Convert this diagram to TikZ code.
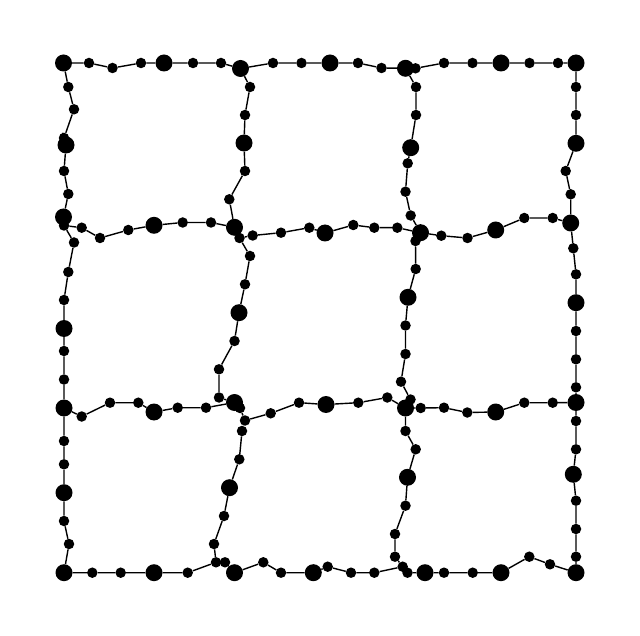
\documentclass[tikz,border=0pt]{standalone}
\begin{document}
\begin{tikzpicture}[x=1pt,y=-1pt,
  sm/.style={circle,fill=black,inner sep=0pt,minimum size=10.5pt},
  bg/.style={circle,fill=black,inner sep=0pt,minimum size=17pt},
  lk/.style={line width=1.4pt,black}]
\useasboundingbox (0,0) rectangle (640,636);
% big nodes
\foreach \n/\x/\y in {a1/63.5/63, a5/164/63, J12/240.5/68.5, a11/330/63, J13/405.5/68.3, a18/501/63, J14/576/63,
  l4/66/145, J21/63.5/217, l10/64/328.5, J31/64/408, l15/64/492.7, J41/64/572.7,
  m3/244/143, J22/234.5/227.3, m8/239/312.7, J32/234.5/402.5, m14/229.5/487.7, J42/234.5/572.7,
  k3/410.7/147.7, J23/420.5/232.7, k8/408/297.3, J33/405.5/408, k15/407.5/477.3, J43/425/572.7,
  q3/576/143.3, J24/570.7/223, q8/576/302.7, J34/576/402.5, q14/573.3/474.3, J44/576/572.7,
  b4/154/225.3, b10/325/233, b16/495.7/230,
  c4/154/412, c9/326/404.5, c14/495.7/412,
  d3/154/572.7, d7/313.3/572.7, d13/501/572.7}
  \node[bg] (\n) at (\x,\y) {};
% small nodes
\foreach \n/\x/\y in {a2/89/63, a3/112.5/68, a4/141/63, a6/193/63, a7/221/63, a9/273/63, a10/301.5/63,
  a12/358/63, a13/381.5/68, a15/415.5/68.3, a16/444/63, a17/472.5/63, a19/529.5/63, a20/558/63,
  l1/68.3/87, l2/74/109.3, l3/64/138, l5/64/171, l6/68.3/194, J21s/64/225.5, l7/74/242.5, l8/68.3/272,
  l9/64/300, l11/64/351, l12/64/379.5, l13/64/441, l14/64/464.3, l16/64/521, l17/69/544,
  m1/250/87, m2/245/115, m4/245/171, m5/229.3/199.3, J22s/239.5/238, m6/250/256, m7/245/284.3,
  m9/234.5/341, m10/219/369.3, m11/219/397.5, J32s/240/408, J32t/245/420.5, m12/242/431,
  m13/239.3/459.3, m15/224/516, m16/214/544, J42a/216/562.3, J42b/225/562.3,
  k1/416/87, k2/416/115, k4/407.7/163.3, k5/405.5/191.7, k6/410.7/215.5, J23s/415.5/241,
  k7/415.7/269, k9/405.5/325.5, k10/405.5/354, k11/401/381.7, k12/410.5/399.5, J33s/420.7/408,
  k13/405.5/431, k14/415.7/449.3, k16/405.5/505.7, k17/395/534, k18/395/556.7, k19/402.7/566.7, k20/407.5/572.7,
  q1/576/87, q2/576/115, q4/565.7/171, q5/570.7/194.3, q6/573.3/248.3, q7/576/274.3, q9/576/331,
  q10/576/359.3, q11/576/387.3, q12/576/421, q13/576/449.3, q15/576/500.7, q16/576/529, q17/576/556.7,
  b1/81.7/227.7, b2/100/238, b3/128.3/230, b5/182.7/222.5, b6/211/222.5, b7/252.7/235.5, b8/281/232.7,
  b9/309.3/227.7, b11/353.3/225, b12/374.3/227.7, b13/397.3/227.7, b14/441.3/235.7, b15/467.5/238,
  b17/524.3/218, b18/552.7/218,
  c1/81.7/416.5, c2/110/402.7, c3/138.3/402.7, c5/177.7/407.7, c6/206/407.7, c7/270.7/413.3, c8/299/402.7,
  c10/358.3/402.7, c11/387.3/397.5, c12/444/407.7, c13/467.3/412.5, c15/524.3/402.7, c16/552.7/402.7,
  d1/92.3/572.7, d2/120.7/572.7, d4/187.7/572.7, d5/263.3/562.3, d6/281/572.7, d8/327.7/566.7,
  d9/351/572.7, d10/374.3/572.7, d11/444/572.7, d12/472.7/572.7, d14/529.3/556.7, d15/550/564.3}
  \node[sm] (\n) at (\x,\y) {};
% rows
\draw[lk] (a1)--(a2)--(a3)--(a4)--(a5)--(a6)--(a7)--(J12)--(a9)--(a10)--(a11)--(a12)--(a13)--(J13)--(a15)--(a16)--(a17)--(a18)--(a19)--(a20)--(J14);
\draw[lk] (J21s)--(b1)--(b2)--(b3)--(b4)--(b5)--(b6)--(J22);
\draw[lk] (J22s)--(b7)--(b8)--(b9)--(b10)--(b11)--(b12)--(b13)--(J23)--(b14)--(b15)--(b16)--(b17)--(b18)--(J24);
\draw[lk] (J31)--(c1)--(c2)--(c3)--(c4)--(c5)--(c6)--(J32);
\draw[lk] (J32t)--(c7)--(c8)--(c9)--(c10)--(c11)--(J33)--(J33s)--(c12)--(c13)--(c14)--(c15)--(c16)--(J34);
\draw[lk] (J41)--(d1)--(d2)--(d3)--(d4)--(J42a)--(J42b)--(J42)--(d5)--(d6)--(d7)--(d8)--(d9)--(d10)--(k19);
\draw[lk] (J43)--(d11)--(d12)--(d13)--(d14)--(d15)--(J44);
% columns
\draw[lk] (a1)--(l1)--(l2)--(l3)--(l4)--(l5)--(l6)--(J21)--(J21s)--(l7)--(l8)--(l9)--(l10)--(l11)--(l12)--(J31)--(l13)--(l14)--(l15)--(l16)--(l17)--(J41);
\draw[lk] (J12)--(m1)--(m2)--(m3)--(m4)--(m5)--(J22)--(J22s)--(m6)--(m7)--(m8)--(m9)--(m10)--(m11)--(J32)--(J32s)--(J32t)--(m12)--(m13)--(m14)--(m15)--(m16)--(J42a);
\draw[lk] (J13)--(k1)--(k2)--(k3)--(k4)--(k5)--(k6)--(J23)--(J23s)--(k7)--(k8)--(k9)--(k10)--(k11)--(k12)--(J33)--(k13)--(k14)--(k15)--(k16)--(k17)--(k18)--(k19)--(k20)--(J43);
\draw[lk] (J14)--(q1)--(q2)--(q3)--(q4)--(q5)--(J24)--(q6)--(q7)--(q8)--(q9)--(q10)--(q11)--(J34)--(q12)--(q13)--(q14)--(q15)--(q16)--(q17)--(J44);
\end{tikzpicture}
\end{document}
